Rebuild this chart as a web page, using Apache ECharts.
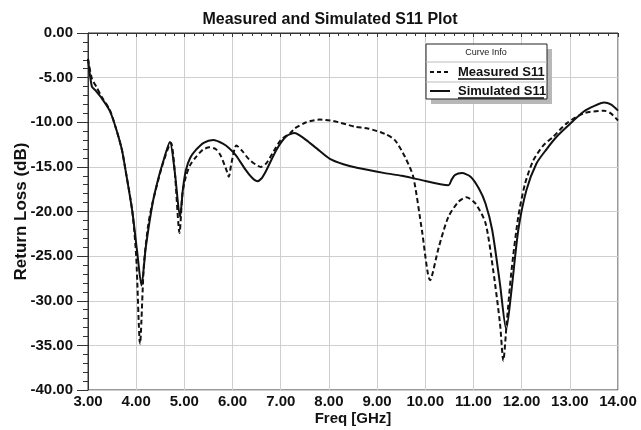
<!DOCTYPE html>
<html>
<head>
<meta charset="utf-8">
<script src="https://cdn.jsdelivr.net/npm/echarts@6/dist/echarts.min.js"></script>
<style>
html,body{margin:0;padding:0;background:#fff;}
#chart{width:641px;height:430px;}
</style>
</head>
<body>
<div id="chart"></div>
<script>
const measuredFreq = [3.00,3.08,3.17,3.29,3.45,3.57,3.70,3.78,3.92,4.00,4.08,4.16,4.25,4.34,4.55,4.72,4.80,4.90,4.96,5.03,5.12,5.24,5.38,5.52,5.65,5.75,5.87,5.92,5.98,6.08,6.20,6.35,6.59,6.70,6.85,7.00,7.20,7.29,7.53,7.81,8.09,8.54,8.81,9.16,9.37,9.58,9.75,9.93,10.10,10.28,10.48,10.69,10.85,11.04,11.25,11.41,11.55,11.62,11.69,11.79,11.93,12.07,12.24,12.45,12.66,12.94,13.29,13.71,13.85,14.00];
const measuredS11 = [-2.9,-5.1,-6.0,-7.2,-8.6,-10.5,-13.0,-15.4,-20.0,-25.0,-34.8,-26.0,-21.5,-19.0,-14.7,-12.3,-15.5,-22.4,-18.0,-16.1,-14.8,-13.9,-13.1,-12.8,-13.0,-13.7,-15.3,-16.1,-14.5,-12.6,-13.2,-14.2,-15.0,-14.6,-13.3,-12.0,-11.2,-10.7,-10.0,-9.7,-9.85,-10.5,-10.7,-11.3,-12.0,-13.9,-16.1,-22.1,-27.7,-24.0,-20.6,-18.9,-18.4,-19.1,-21.3,-26.6,-32.5,-36.7,-32.5,-26.6,-20.6,-16.9,-14.3,-12.6,-11.6,-10.1,-9.0,-8.7,-9.0,-9.8];
const simulatedFreq = [3.00,3.08,3.15,3.29,3.45,3.57,3.70,3.78,3.92,4.02,4.11,4.20,4.34,4.45,4.55,4.70,4.80,4.91,4.97,5.03,5.12,5.24,5.40,5.60,5.80,5.93,6.07,6.28,6.40,6.51,6.60,6.70,6.91,7.11,7.29,7.40,7.53,7.74,8.02,8.30,8.58,9.16,9.51,9.86,10.48,10.55,10.62,10.76,10.94,11.11,11.25,11.39,11.55,11.68,11.79,11.93,12.10,12.31,12.52,12.73,12.94,13.29,13.50,13.71,13.85,14.00];
const simulatedS11 = [-2.9,-6.0,-6.4,-7.35,-8.7,-10.5,-13.0,-15.4,-20.0,-24.5,-28.3,-24.0,-19.1,-16.5,-14.6,-12.2,-15.5,-20.6,-17.5,-15.4,-14.0,-13.1,-12.3,-12.0,-12.4,-12.9,-13.7,-15.4,-16.2,-16.6,-16.3,-15.4,-13.1,-11.6,-11.2,-11.5,-12.0,-12.9,-14.1,-14.7,-15.1,-15.7,-16.0,-16.4,-17.05,-16.4,-15.9,-15.7,-16.1,-17.4,-19.1,-22.1,-28.1,-33.2,-28.8,-22.1,-17.6,-14.6,-13.0,-11.6,-10.5,-8.8,-8.2,-7.8,-8.0,-8.7];
const seriesNames = ['Measured S11','Simulated S11'];
const titleText = 'Measured and Simulated S11 Plot';
const xName = 'Freq [GHz]';
const yName = 'Return Loss (dB)';
const legendTitle = 'Curve Info';

const zip = (a,b) => a.map((v,i)=>[v,b[i]]);
const FONT = '"Liberation Sans", Arial, sans-serif';

const chart = echarts.init(document.getElementById('chart'));
chart.setOption({
  backgroundColor:'#fff',
  animation:false,
  title:{text:titleText,left:325,textAlign:'center',top:7,textStyle:{fontFamily:FONT,fontSize:16,fontWeight:'bold',color:'#111'}},
  grid:{left:88,top:33,width:530,height:357,containLabel:false,outerBoundsMode:'none',show:true,borderColor:'#333',borderWidth:1,backgroundColor:'transparent'},
  xAxis:{type:'value',min:3,max:14,interval:1,name:xName,nameLocation:'middle',nameGap:21,nameMoveOverlap:false,
    nameTextStyle:{fontFamily:FONT,fontSize:15,fontWeight:'bold',color:'#111'},
    axisLine:{lineStyle:{color:'#333'}},
    axisTick:{show:true,length:4,lineStyle:{color:'#333'}},
    minorTick:{show:true,splitNumber:5,length:3,lineStyle:{color:'#333'}},
    axisLabel:{fontFamily:FONT,fontSize:15,fontWeight:'bold',color:'#111',margin:4,formatter:v=>v.toFixed(2)},
    splitLine:{show:true,lineStyle:{color:'#cfcfcf',width:1}}},
  yAxis:{type:'value',min:-40,max:0,interval:5,name:yName,nameLocation:'middle',nameGap:58,nameMoveOverlap:false,
    nameTextStyle:{fontFamily:FONT,fontSize:17,fontWeight:'bold',color:'#111'},
    axisLine:{show:true,lineStyle:{color:'#333'}},
    axisTick:{show:true,length:11,lineStyle:{color:'#333'}},
    minorTick:{show:true,splitNumber:5,length:5,lineStyle:{color:'#333'}},
    axisLabel:{fontFamily:FONT,fontSize:15,fontWeight:'bold',color:'#111',margin:15,formatter:v=>v.toFixed(2)},
    splitLine:{show:true,lineStyle:{color:'#cfcfcf',width:1}}},
  series:[
    {name:seriesNames[0],type:'line',data:zip(measuredFreq,measuredS11),showSymbol:false,smooth:0.25,
     lineStyle:{color:'#111',width:2,type:[5,3]},z:3},
    {name:seriesNames[1],type:'line',data:zip(simulatedFreq,simulatedS11),showSymbol:false,smooth:0.25,
     lineStyle:{color:'#111',width:2,type:'solid'},z:4}
  ],
  graphic:[
    {type:'rect',shape:{x:431,y:49,width:121,height:55},style:{fill:'#b8b8b8'},z:10},
    {type:'rect',shape:{x:426,y:44,width:121,height:55},style:{fill:'#fff',stroke:'#222',lineWidth:1},z:11},
    {type:'text',x:486,y:53,style:{text:legendTitle,fontFamily:FONT,fontSize:9,fill:'#222',align:'center',verticalAlign:'middle'},z:12},
    {type:'line',shape:{x1:426,y1:62,x2:547,y2:62},style:{stroke:'#bbb',lineWidth:1},z:12},
    {type:'line',shape:{x1:426,y1:82,x2:547,y2:82},style:{stroke:'#bbb',lineWidth:1},z:12},
    {type:'line',shape:{x1:430,y1:72,x2:450,y2:72},style:{stroke:'#111',lineWidth:2,lineDash:[4,3]},z:12},
    {type:'text',x:458,y:72,style:{text:seriesNames[0],fontFamily:FONT,fontSize:13,fontWeight:'bold',fill:'#111',align:'left',verticalAlign:'middle'},z:12},
    {type:'line',shape:{x1:458,y1:79,x2:544,y2:79},style:{stroke:'#111',lineWidth:1.5},z:12},
    {type:'line',shape:{x1:430,y1:91,x2:450,y2:91},style:{stroke:'#111',lineWidth:2},z:12},
    {type:'text',x:458,y:91,style:{text:seriesNames[1],fontFamily:FONT,fontSize:13,fontWeight:'bold',fill:'#111',align:'left',verticalAlign:'middle'},z:12},
    {type:'line',shape:{x1:458,y1:98,x2:544,y2:98},style:{stroke:'#111',lineWidth:1.5},z:12}
  ]
});
</script>
</body>
</html>
